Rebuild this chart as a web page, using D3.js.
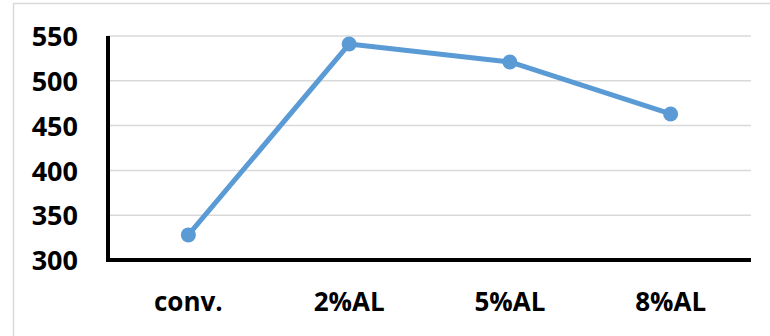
<!DOCTYPE html>
<html>
<head>
<meta charset="utf-8">
<script src="https://cdn.jsdelivr.net/npm/d3@7/dist/d3.min.js"></script>
<style>
  html, body { margin: 0; padding: 0; background: #fff; }
  svg { display: block; }
  text { font-family: "Open Sans", "Liberation Sans", sans-serif; font-weight: 700; fill: #000; }
</style>
</head>
<body>
<svg id="chart" width="770" height="336"></svg>
<script>
// Categories and measured values
const categories = ["conv.", "2%AL", "5%AL", "8%AL"];
const values = [328, 541, 521, 463];
const yTicks = [300, 350, 400, 450, 500, 550];

const W = 770, H = 336;
const margin = { left: 108, right: 19, top: 36, bottom: 76 };

const svg = d3.select("#chart");

// chart area frame
svg.append("rect")
  .attr("x", 13.5).attr("y", 3.5)
  .attr("width", W).attr("height", H)
  .attr("fill", "none").attr("stroke", "#d9d9d9").attr("stroke-width", 1.5);

const x = d3.scaleBand().domain(categories)
  .range([margin.left, W - margin.right]);
const y = d3.scaleLinear().domain([300, 550])
  .range([H - margin.bottom, margin.top]);

// horizontal gridlines
svg.append("g").selectAll("line")
  .data(yTicks.filter(d => d > 300))
  .join("line")
  .attr("x1", margin.left).attr("x2", W - margin.right)
  .attr("y1", d => y(d)).attr("y2", d => y(d))
  .attr("stroke", "#d9d9d9").attr("stroke-width", 1.5);

// y axis labels
const yAxis = d3.axisLeft(y).tickValues(yTicks).tickSize(0).tickPadding(30);
const gy = svg.append("g").attr("transform", `translate(${margin.left},0)`).call(yAxis);
gy.select(".domain").remove();
gy.selectAll("text")
  .style("font-size", "27px")
  .attr("dy", "0.36em");

// x axis labels
const xAxis = d3.axisBottom(x).tickSize(0).tickPadding(33);
const gx = svg.append("g").attr("transform", `translate(0,${y(300)})`).call(xAxis);
gx.select(".domain").remove();
gx.selectAll("text").style("font-size", "26px");

// axis lines
svg.append("line")
  .attr("x1", margin.left).attr("x2", margin.left)
  .attr("y1", y(550)).attr("y2", y(300) + 2)
  .attr("stroke", "#000").attr("stroke-width", 4);
svg.append("line")
  .attr("x1", margin.left - 2).attr("x2", W - margin.right)
  .attr("y1", y(300)).attr("y2", y(300))
  .attr("stroke", "#000").attr("stroke-width", 4);

// series line
const line = d3.line()
  .x((d, i) => x(categories[i]) + x.bandwidth() / 2)
  .y(d => y(d));

svg.append("path")
  .datum(values)
  .attr("d", line)
  .attr("fill", "none")
  .attr("stroke", "#5b9bd5")
  .attr("stroke-width", 5)
  .attr("stroke-linejoin", "round");

svg.append("g").selectAll("circle")
  .data(values)
  .join("circle")
  .attr("cx", (d, i) => x(categories[i]) + x.bandwidth() / 2)
  .attr("cy", d => y(d))
  .attr("r", 7.5)
  .attr("fill", "#5b9bd5");
</script>
</body>
</html>
